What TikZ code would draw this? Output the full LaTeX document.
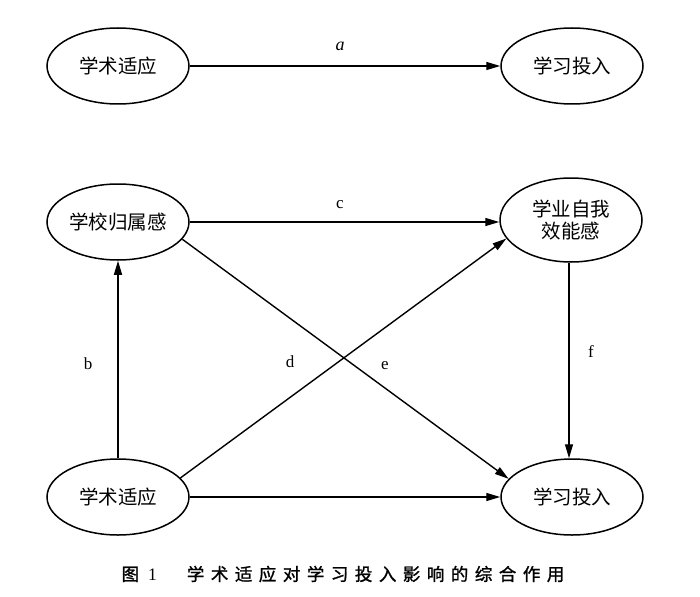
\documentclass[tikz,border=0pt]{standalone}
\usepackage{fontspec}
\usetikzlibrary{arrows.meta,shapes.geometric}
\newfontfamily\cjk{Noto Sans CJK SC}
\newfontfamily\capfont[FakeBold=1.3]{Noto Sans CJK SC}
\setmainfont{Liberation Serif}
\newcommand\gk{\kern6.5pt}
\begin{document}
\begin{tikzpicture}[x=1pt,y=-1pt,
  var/.style={ellipse,draw,line width=1.5pt,minimum width=142pt,minimum height=76pt,inner sep=0pt,
    font=\cjk\fontsize{19.5}{24}\selectfont,align=center},
  arr/.style={line width=1.4pt,-{Triangle[length=14pt,width=8pt]}},
  lab/.style={font=\fontsize{17}{20}\selectfont,inner sep=0pt}]
\useasboundingbox (0,0) rectangle (700,596);
% top model
\node[var] (tl) at (118,66) {学术适应};
\node[var] (tr) at (572,66) {学习投入};
\draw[arr] (tl) -- (tr);
\node[lab,font=\itshape\fontsize{18}{20}\selectfont] (la) at (340,46) {a};
% full model
\node[var] (ml) at (118,222) {学校归属感};
\node[var,minimum height=84pt] (mr) at (571,220) {学业自我\\[-2pt]效能感};
\node[var] (bl) at (118,497) {学术适应};
\node[var] (br) at (572,497) {学习投入};
\draw[arr] (ml) -- (ml -| mr.west);
\draw[arr] (bl) -- (br);
\draw[arr] (bl.north) -- (ml.south);
\draw[arr] (mr.south -| 569,0) -- (br.north -| 569,0);
\draw[arr] (bl.17) -- (mr.196);
\draw[arr] (ml.345) -- (br.164);
\node[lab] (lc) at (340,205) {c};
\node[lab] (lb) at (88,364) {b};
\node[lab] (ld) at (290,362) {d};
\node[lab] (le) at (385,366) {e};
\node[lab] (lf) at (591,352) {f};
% caption
\node[font=\capfont\fontsize{17.5}{20}\selectfont,inner sep=0pt] (cap) at (343,574)
  {图\kern9pt{\rmfamily 1}\kern30pt 学\gk 术\gk 适\gk 应\gk 对\gk 学\gk 习\gk 投\gk 入\gk 影\gk 响\gk 的\gk 综\gk 合\gk 作\gk 用};
\end{tikzpicture}
\end{document}
